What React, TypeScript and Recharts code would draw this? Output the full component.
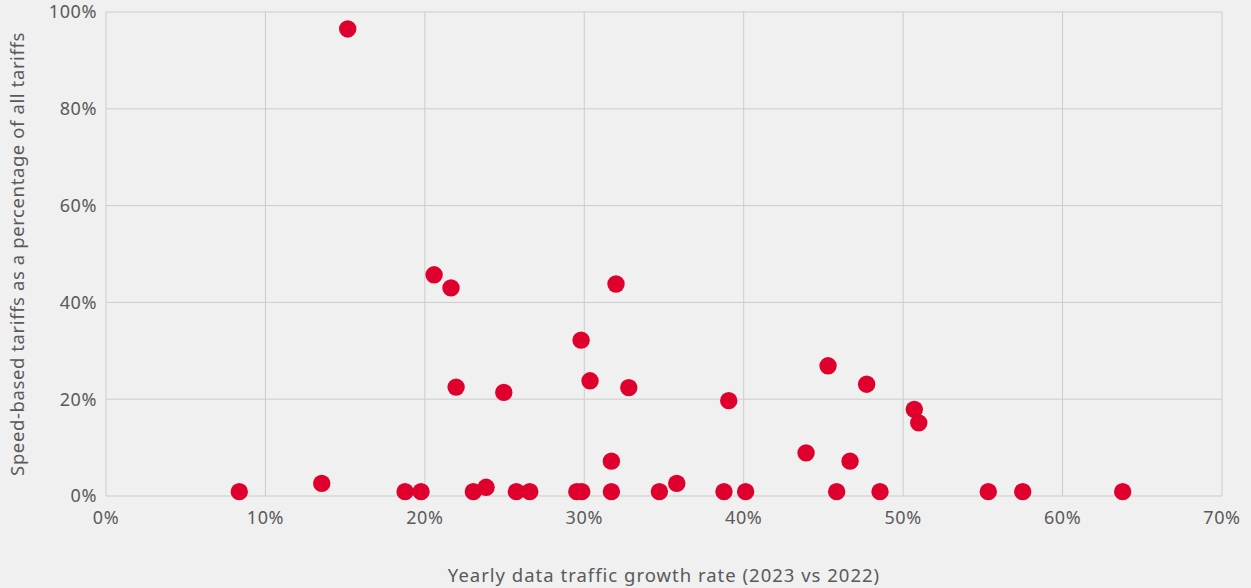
import React from "react";
import { ScatterChart, Scatter, XAxis, YAxis, CartesianGrid } from "recharts";

const growthRate: number[] = [
  8.36, 13.53, 15.16, 18.76, 19.76, 20.58, 21.64, 21.96, 23.04, 23.84,
  24.95, 25.74, 26.58, 29.53, 29.84, 29.8, 30.36, 31.7, 31.7, 31.99,
  32.79, 34.71, 35.8, 38.76, 39.06, 40.12, 43.91, 45.29, 45.83, 46.67,
  47.71, 48.55, 50.7, 50.98, 55.34, 57.5, 63.77,
];
const speedShare: number[] = [
  0.9, 2.6, 96.5, 0.9, 0.9, 45.7, 43.0, 22.5, 0.9, 1.8,
  21.4, 0.9, 0.9, 0.9, 0.9, 32.2, 23.8, 7.2, 0.9, 43.8,
  22.4, 0.9, 2.6, 0.9, 19.7, 0.9, 8.9, 26.9, 0.9, 7.2,
  23.1, 0.9, 17.9, 15.1, 0.9, 0.9, 0.9,
];
const xTicks: number[] = [0, 10, 20, 30, 40, 50, 60, 70];
const yTicks: number[] = [0, 20, 40, 60, 80, 100];

const xTitle = "Yearly data traffic growth rate (2023 vs 2022)";
const yTitle = "Speed-based tariffs as a percentage of all tariffs";

const points = growthRate.map((x, i) => ({ x, y: speedShare[i] }));

const FONT = "'Noto Sans', sans-serif";
const TEXT = "#5a5a5a";
const RED = "#E0002D";

const Dot = (p: any) => <circle cx={p.cx} cy={p.cy} r={8.7} fill={RED} />;

export default function App() {
  return (
    <div style={{ position: "absolute", left: 0, top: 0, width: 1251, height: 588, background: "#f0f0f0" }}>
      <ScatterChart
        width={1251}
        height={588}
        margin={{ top: 12, right: 29, bottom: 0, left: 0 }}
        style={{ fontFamily: FONT }}
      >
        <CartesianGrid stroke="#cccccc" strokeWidth={1} />
        <XAxis
          type="number"
          dataKey="x"
          domain={[0, 70]}
          ticks={xTicks}
          tickFormatter={(v: number) => `${v}%`}
          axisLine={false}
          tickLine={false}
          tickSize={0}
          tickMargin={15}
          height={92}
          tick={{ fill: TEXT, fontSize: 18, fontFamily: FONT, letterSpacing: 0.6 }}
          label={{
            content: () => (
              <text x={664} y={582} textAnchor="middle" fill={TEXT} fontSize={18.5} fontFamily={FONT} letterSpacing={1}>
                {xTitle}
              </text>
            ),
          }}
        />
        <YAxis
          type="number"
          dataKey="y"
          domain={[0, 100]}
          ticks={yTicks}
          tickFormatter={(v: number) => `${v}%`}
          axisLine={false}
          tickLine={false}
          tickSize={0}
          tickMargin={9}
          width={106}
          tick={{ fill: TEXT, fontSize: 18, fontFamily: FONT, letterSpacing: 0.6 }}
          label={{
            content: () => (
              <text
                x={16}
                y={254}
                textAnchor="middle"
                dominantBaseline="central"
                transform="rotate(-90 16 254)"
                fill={TEXT}
                fontSize={18.5}
                fontFamily={FONT}
                letterSpacing={0.6}
              >
                {yTitle}
              </text>
            ),
          }}
        />
        <Scatter data={points} fill={RED} shape={Dot} isAnimationActive={false} />
      </ScatterChart>
    </div>
  );
}
